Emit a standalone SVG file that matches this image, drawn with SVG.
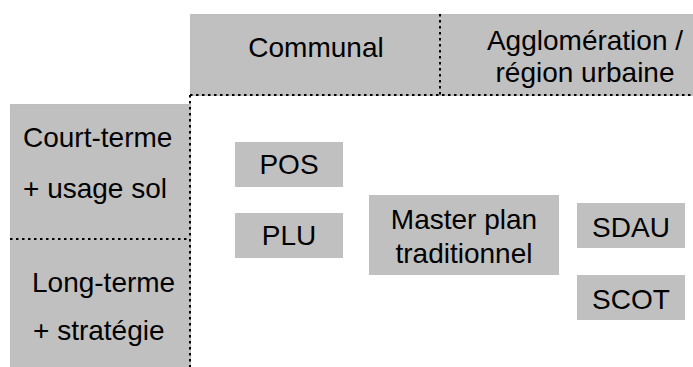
<svg xmlns="http://www.w3.org/2000/svg" width="693" height="367" viewBox="0 0 693 367">
<style>
  .panel { fill: #c0c0c0; stroke: #9a9a9a; stroke-width: 1; stroke-dasharray: 1 1; }
  .box { fill: #c0c0c0; stroke: none; }
  .axis { stroke: #000; stroke-width: 2; stroke-dasharray: 2.5 3.5; fill: none; }
  text { font-family: "Liberation Sans", Arial, sans-serif; font-size: 28px; fill: #000; }
  .c { text-anchor: middle; }
</style>
<rect width="693" height="367" fill="#fff"/>
<g id="header">
  <rect class="panel" x="190.5" y="14.5" width="520" height="81"/>
  <text class="c" x="316" y="57">Communal</text>
  <text class="c" x="585" y="50">Agglomération /</text>
  <text class="c" x="585" y="82">région urbaine</text>
</g>
<g id="side">
  <rect class="panel" x="10.5" y="104.5" width="180" height="280"/>
  <text x="23" y="147">Court-terme</text>
  <text x="23" y="198">+ usage sol</text>
  <text x="32" y="292">Long-terme</text>
  <text x="33" y="340">+ stratégie</text>
</g>
<g id="connectors">
  <line class="axis" x1="190" y1="95" x2="190" y2="367"/>
  <line class="axis" x1="190" y1="95" x2="693" y2="95"/>
  <line class="axis" x1="440" y1="14" x2="440" y2="95"/>
  <line class="axis" x1="10" y1="239" x2="190" y2="239"/>
</g>
<g id="pos">
  <rect class="box" x="235" y="142" width="108" height="45"/>
  <text class="c" x="289" y="173.5">POS</text>
</g>
<g id="plu">
  <rect class="box" x="235" y="213" width="108" height="45"/>
  <text class="c" x="289" y="245">PLU</text>
</g>
<g id="master">
  <rect class="box" x="369" y="195" width="190" height="80"/>
  <text class="c" x="464" y="228.5">Master plan</text>
  <text class="c" x="464" y="262.5">traditionnel</text>
</g>
<g id="sdau">
  <rect class="box" x="577" y="203" width="108" height="45"/>
  <text class="c" x="631" y="236.5">SDAU</text>
</g>
<g id="scot">
  <rect class="box" x="577" y="275" width="108" height="45"/>
  <text class="c" x="631" y="308.5">SCOT</text>
</g>
</svg>
